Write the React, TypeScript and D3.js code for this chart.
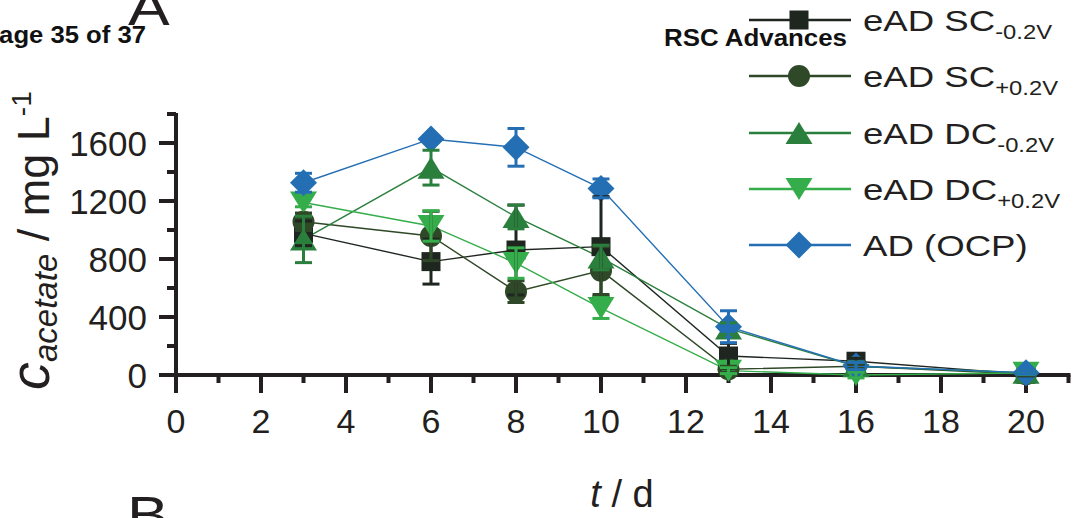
import React from "react";
import * as d3 from "d3";

const days = [3, 6, 8, 10, 13, 16, 20];
const scNegVals = [977, 782, 862, 885, 131, 95, 5];
const scNegErr = [85, 155, 310, 345, 87, 20, 10];
const scPosVals = [1057, 959, 575, 720, 40, 60, 5];
const scPosErr = [60, 170, 75, 165, 20, 15, 10];
const dcNegVals = [935, 1430, 1090, 810, 320, 60, 15];
const dcNegErr = [160, 120, 82, 85, 40, 30, 10];
const dcPosVals = [1190, 1028, 772, 462, 30, 0, 15];
const dcPosErr = [30, 105, 105, 72, 20, 20, 10];
const adVals = [1326, 1628, 1570, 1287, 333, 62, 16];
const adErr = [65, 20, 130, 65, 110, 25, 10];

const xTicks = [0, 2, 4, 6, 8, 10, 12, 14, 16, 18, 20];
const xMinor = [1, 3, 5, 7, 9, 11, 13, 15, 17, 19, 21];
const yTicks = [0, 400, 800, 1200, 1600];
const yMinor = [200, 600, 1000, 1400, 1800];

type Shape = "square" | "circle" | "up" | "down" | "diamond";
const series: { name: string; sub: string; shape: Shape; color: string; vals: number[]; err: number[] }[] = [
  { name: "eAD SC", sub: "-0.2V", shape: "square", color: "#1f2620", vals: scNegVals, err: scNegErr },
  { name: "eAD SC", sub: "+0.2V", shape: "circle", color: "#2f4827", vals: scPosVals, err: scPosErr },
  { name: "eAD DC", sub: "-0.2V", shape: "up", color: "#2a7f3d", vals: dcNegVals, err: dcNegErr },
  { name: "eAD DC", sub: "+0.2V", shape: "down", color: "#34ad4a", vals: dcPosVals, err: dcPosErr },
  { name: "AD (OCP)", sub: "", shape: "diamond", color: "#246fb4", vals: adVals, err: adErr },
];

const W = 1074;
const H = 518;
const x = d3.scaleLinear().domain([0, 20]).range([176, 1026]);
const y = d3.scaleLinear().domain([0, 400]).range([375, 317]);
const AX = "#231f20";
const FONT = "'Liberation Sans', Arial, sans-serif";

function Marker({ shape, cx, cy, color }: { shape: Shape; cx: number; cy: number; color: string }) {
  switch (shape) {
    case "square":
      return <rect x={cx - 9.5} y={cy - 9.5} width={19} height={19} fill={color} />;
    case "circle":
      return <circle cx={cx} cy={cy} r={11} fill={color} />;
    case "up":
      return <path d={`M${cx},${cy - 11}L${cx + 13.5},${cy + 11}L${cx - 13.5},${cy + 11}Z`} fill={color} />;
    case "down":
      return <path d={`M${cx},${cy + 11}L${cx + 13.5},${cy - 11}L${cx - 13.5},${cy - 11}Z`} fill={color} />;
    case "diamond":
      return <path d={`M${cx},${cy - 13.5}L${cx + 13.5},${cy}L${cx},${cy + 13.5}L${cx - 13.5},${cy}Z`} fill={color} />;
  }
}

export default function App() {
  const line = d3
    .line<number>()
    .x((_, i) => x(days[i]))
    .y((v) => y(v));
  const legendRows = [20, 76, 133, 189, 245];
  return (
    <svg width={W} height={H} style={{ position: "absolute", left: 0, top: 0, background: "#fff" }} fontFamily={FONT}>
      <rect width={W} height={H} fill="#fff" />
      {/* header */}
      <text x={-18} y={43} fontSize={23.5} fontWeight="bold" fill="#111" textLength={164} lengthAdjust="spacingAndGlyphs">
        Page 35 of 37
      </text>
      <text x={664} y={45.5} fontSize={23.5} fontWeight="bold" fill="#111" textLength={183} lengthAdjust="spacingAndGlyphs">
        RSC Advances
      </text>
      <text transform="translate(128,25) scale(1.2,1)" fontSize={52} fill="#231f20">A</text>
      <text transform="translate(127,533) scale(1.2,1)" fontSize={52} fill="#231f20">B</text>

      {/* axes */}
      <g stroke={AX} strokeWidth={4}>
        <line x1={176} y1={y(1800) - 1} x2={176} y2={377} />
        <line x1={174} y1={375} x2={x(21) + 2} y2={375} />
        {xTicks.map((t) => (
          <line key={"xt" + t} x1={x(t)} x2={x(t)} y1={375} y2={393} />
        ))}
        {xMinor.map((t) => (
          <line key={"xm" + t} x1={x(t)} x2={x(t)} y1={375} y2={383} />
        ))}
        {yTicks.map((t) => (
          <line key={"yt" + t} x1={159} x2={176} y1={y(t)} y2={y(t)} />
        ))}
        {yMinor.map((t) => (
          <line key={"ym" + t} x1={167} x2={176} y1={y(t)} y2={y(t)} />
        ))}
      </g>
      {xTicks.map((t) => (
        <text key={"xl" + t} x={x(t)} y={433} fontSize={34} textAnchor="middle" fill="#231f20">
          {t}
        </text>
      ))}
      {yTicks.map((t) => (
        <text key={"yl" + t} x={147} y={y(t) + 13} fontSize={35} textAnchor="end" fill="#231f20">
          {t}
        </text>
      ))}

      {/* axis titles */}
      <text x={622} y={507} fontSize={38} textAnchor="middle" fill="#231f20">
        <tspan fontStyle="italic">t</tspan> / d
      </text>
      <text transform="translate(49,390) rotate(-90)" fill="#231f20">
        <tspan fontStyle="italic" fontSize={56}>c</tspan>
        <tspan fontStyle="italic" fontSize={33} dy={8}>acetate</tspan>
        <tspan fontSize={45} dy={-8}> / mg L</tspan>
        <tspan fontSize={28} dy={-18}>-1</tspan>
      </text>

      {/* lines */}
      {series.map((s, si) => (
        <path key={"l" + si} d={line(s.vals) || ""} fill="none" stroke={s.color} strokeWidth={1.4} />
      ))}
      {/* markers */}
      {series.map((s, si) => (
        <g key={"m" + si}>
          {s.vals.map((v, i) => (
            <Marker key={i} shape={s.shape} cx={x(days[i])} cy={y(v)} color={s.color} />
          ))}
        </g>
      ))}
      {/* error bars */}
      {series.map((s, si) => (
        <g key={"e" + si} stroke={s.color} strokeWidth={3}>
          {s.vals.map((v, i) => {
            const cx = x(days[i]);
            const y1 = y(v + s.err[i]);
            const y2 = y(v - s.err[i]);
            return (
              <g key={i}>
                <line x1={cx} x2={cx} y1={y1} y2={y2} />
                <line x1={cx - 8.5} x2={cx + 8.5} y1={y1} y2={y1} />
                <line x1={cx - 8.5} x2={cx + 8.5} y1={y2} y2={y2} />
              </g>
            );
          })}
        </g>
      ))}

      {/* legend */}
      {series.map((s, si) => {
        const ry = legendRows[si];
        return (
          <g key={"lg" + si}>
            <line x1={749} x2={851} y1={ry} y2={ry} stroke={s.color} strokeWidth={2.5} />
            <Marker shape={s.shape} cx={799} cy={ry} color={s.color} />
            <text transform={`translate(863,${ry + 11}) scale(1.22,1)`} fontSize={30} fill="#231f20">
              {s.name}
              {s.sub && (
                <tspan fontSize={19.5} dy={8}>
                  {s.sub}
                </tspan>
              )}
            </text>
          </g>
        );
      })}
    </svg>
  );
}
